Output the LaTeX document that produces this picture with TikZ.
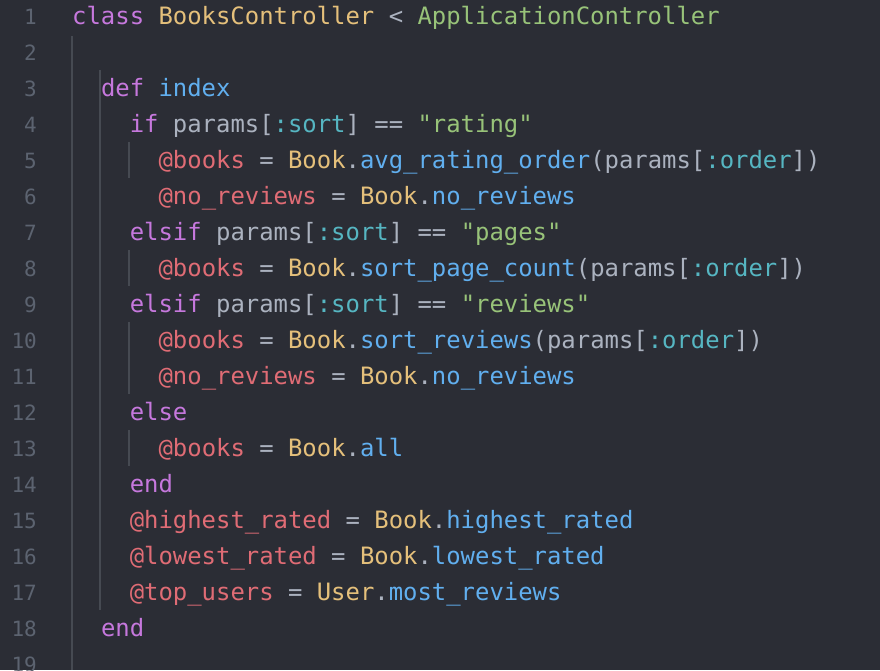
\documentclass[tikz,border=0pt]{standalone}
\usepackage{fontspec}
\newfontfamily\codefont{DejaVu Sans Mono}
\definecolor{bg}{HTML}{2B2D35}
\definecolor{lnum}{HTML}{5C6370}
\definecolor{guide}{HTML}{464A52}
\definecolor{plain}{HTML}{ABB2BF}
\definecolor{kwc}{HTML}{C678DD}
\definecolor{clc}{HTML}{E5C07B}
\definecolor{strc}{HTML}{98C379}
\definecolor{fnc}{HTML}{61AFEF}
\definecolor{ivc}{HTML}{E06C75}
\definecolor{symc}{HTML}{56B6C2}
\newcommand\kw[1]{\textcolor{kwc}{#1}}
\newcommand\cl[1]{\textcolor{clc}{#1}}
\newcommand\st[1]{\textcolor{strc}{#1}}
\newcommand\fn[1]{\textcolor{fnc}{#1}}
\newcommand\iv[1]{\textcolor{ivc}{#1}}
\newcommand\sy[1]{\textcolor{symc}{#1}}
\begin{document}
\begin{tikzpicture}[x=1pt,y=-1pt,
  code/.style={anchor=base west,inner sep=0pt,text=plain,font=\codefont\fontsize{23.9}{28}\selectfont},
  num/.style={anchor=base east,inner sep=0pt,text=lnum,font=\codefont\fontsize{21}{26}\selectfont},
  gl/.style={draw=guide,line width=1.2pt}]
\fill[bg] (0,0) rectangle (880,670);
\useasboundingbox (0,0) rectangle (880,670);
\foreach \i in {1,...,19}{
  \pgfmathsetmacro\yy{16+36*(\i-1)+8}
  \node[num] (n\i) at (37,\yy) {\i};
}
\draw[gl] (72,36) -- (72,670);
\draw[gl] (100,70) -- (100,610);
\draw[gl] (129,142) -- (129,178);
\draw[gl] (129,250) -- (129,286);
\draw[gl] (129,322) -- (129,394);
\draw[gl] (129,430) -- (129,466);
\def\cw{14.4}
\newcommand\codeln[3]{\pgfmathsetmacro\yy{16+36*(#1-1)+8}\pgfmathsetmacro\xx{72+\cw*#2}\node[code] (l#1) at (\xx,\yy) {#3};}
\codeln{1}{0}{\kw{class} \cl{BooksController} < \st{ApplicationController}}
\codeln{3}{2}{\kw{def} \fn{index}}
\codeln{4}{4}{\kw{if} params[\sy{:sort}] == \st{"rating"}}
\codeln{5}{6}{\iv{@books} = \cl{Book}.\fn{avg\_rating\_order}(params[\sy{:order}])}
\codeln{6}{6}{\iv{@no\_reviews} = \cl{Book}.\fn{no\_reviews}}
\codeln{7}{4}{\kw{elsif} params[\sy{:sort}] == \st{"pages"}}
\codeln{8}{6}{\iv{@books} = \cl{Book}.\fn{sort\_page\_count}(params[\sy{:order}])}
\codeln{9}{4}{\kw{elsif} params[\sy{:sort}] == \st{"reviews"}}
\codeln{10}{6}{\iv{@books} = \cl{Book}.\fn{sort\_reviews}(params[\sy{:order}])}
\codeln{11}{6}{\iv{@no\_reviews} = \cl{Book}.\fn{no\_reviews}}
\codeln{12}{4}{\kw{else}}
\codeln{13}{6}{\iv{@books} = \cl{Book}.\fn{all}}
\codeln{14}{4}{\kw{end}}
\codeln{15}{4}{\iv{@highest\_rated} = \cl{Book}.\fn{highest\_rated}}
\codeln{16}{4}{\iv{@lowest\_rated} = \cl{Book}.\fn{lowest\_rated}}
\codeln{17}{4}{\iv{@top\_users} = \cl{User}.\fn{most\_reviews}}
\codeln{18}{2}{\kw{end}}
\end{tikzpicture}
\end{document}
